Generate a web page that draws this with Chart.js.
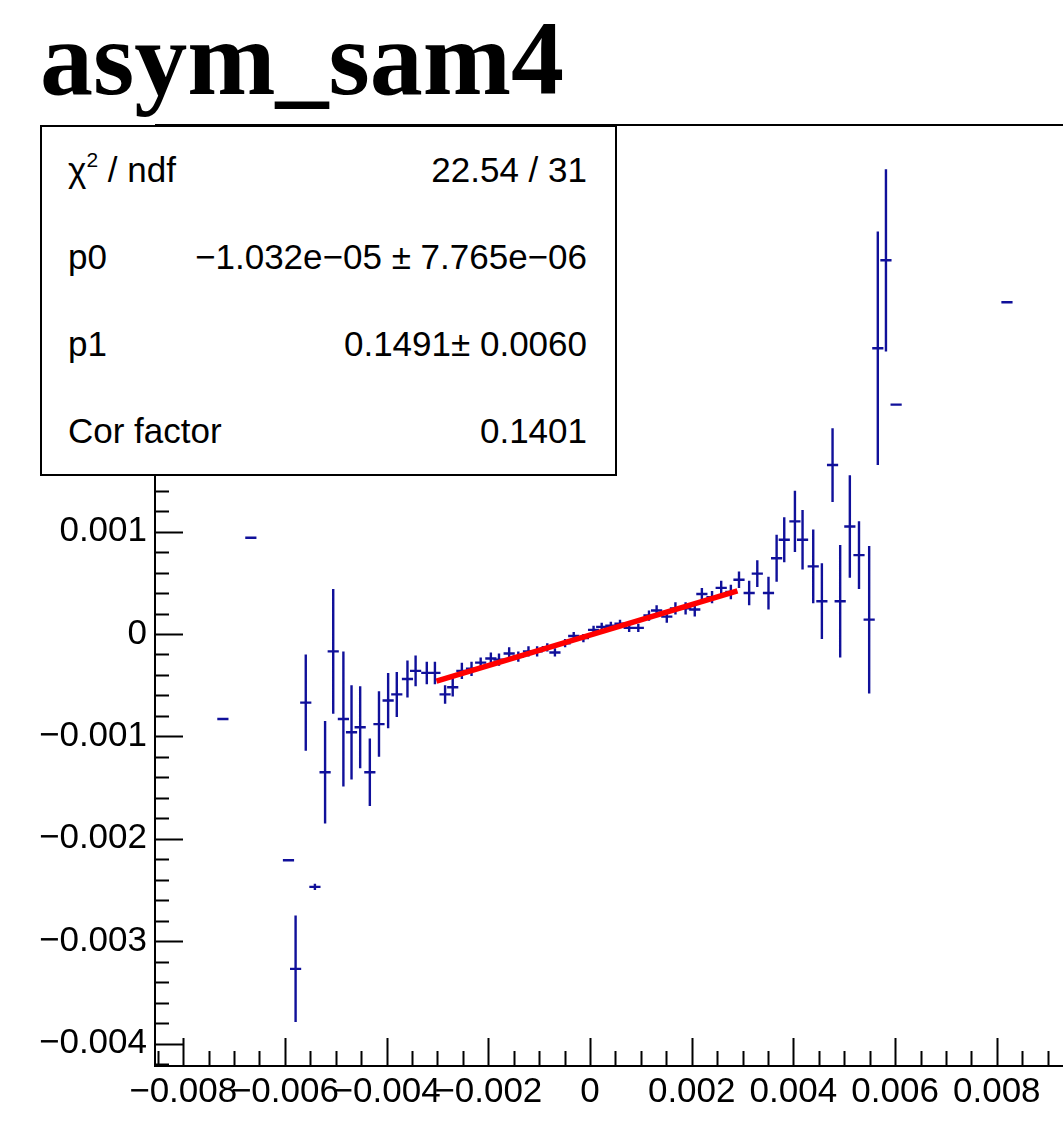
<!DOCTYPE html>
<html lang="en">
<head>
<meta charset="UTF-8">
<title>asym_sam4</title>
<script src="https://cdn.jsdelivr.net/npm/chart.js"></script>
<style>
  body { margin: 0; background: #fff; }
  #wrap { position: relative; width: 1063px; height: 1133px; overflow: hidden; }
  #title {
    position: absolute; left: 40px; top: 6px;
    font: bold 106px "Liberation Serif", "Times New Roman", serif;
    line-height: 1; color: #000; white-space: nowrap;
  }
  #stats {
    position: absolute; left: 40px; top: 125px; width: 577px; height: 351px;
    box-sizing: border-box; border: 2px solid #000; background: #fff;
    display: flex; flex-direction: column; padding: 0 28px 0 26px;
    font: 35px "Liberation Sans", Arial, sans-serif; color: #000;
  }
  #stats .row { flex: 1; display: flex; justify-content: space-between; align-items: center; white-space: nowrap; }
  #stats sup { font-size: 60%; vertical-align: 0.7em; line-height: 0; }
</style>
</head>
<body>
<div id="wrap">
  <canvas id="chart" width="1063" height="1133"></canvas>
  <div id="title">asym_sam4</div>
  <div id="stats"></div>
</div>

<script>
// binned asymmetry points: bin centre, mean value, error on the mean
const xVals = [
  -0.00722, -0.00667, -0.00593, -0.00579, -0.00559, -0.00541, -0.00521, -0.00505,
  -0.00485, -0.00469, -0.00452, -0.00433, -0.00415, -0.00397, -0.00380, -0.00359,
  -0.00343, -0.00321, -0.00305, -0.00285, -0.00270, -0.00252, -0.00233, -0.00215,
  -0.00195, -0.00179, -0.00159, -0.00141, -0.00121, -0.00104, -0.00084, -0.00069,
  -0.00049, -0.00032, -0.00013, 0.00007, 0.00023, 0.00041, 0.00059, 0.00077,
  0.00095, 0.00116, 0.00131, 0.00151, 0.00168, 0.00188, 0.00206, 0.00220,
  0.00240, 0.00258, 0.00277, 0.00293, 0.00313, 0.00329, 0.00351, 0.00367,
  0.00382, 0.00403, 0.00418, 0.00439, 0.00456, 0.00477, 0.00492, 0.00511,
  0.00529, 0.00549, 0.00566, 0.00582, 0.00602, 0.00820
];
const yVals = [
  -0.00083, 0.00094, -0.00221, -0.00327, -0.00067, -0.00247, -0.00135, -0.00017,
  -0.00083, -0.00096, -0.00091, -0.00135, -0.00088, -0.00065, -0.00059, -0.00044,
  -0.00036, -0.00038, -0.00038, -0.00059, -0.00052, -0.00036, -0.00034, -0.00028,
  -0.00024, -0.00025, -0.00019, -0.00022, -0.00017, -0.00017, -0.00013, -0.00018,
  -0.00009, -0.00002, -0.00004, 0.00004, 0.00007, 0.00008, 0.00010, 0.00006,
  0.00006, 0.00018, 0.00023, 0.00017, 0.00025, 0.00025, 0.00024, 0.00039,
  0.00036, 0.00045, 0.00041, 0.00053, 0.00040, 0.00059, 0.00040, 0.00074,
  0.00092, 0.00110, 0.00092, 0.00066, 0.00032, 0.00165, 0.00032, 0.00105,
  0.00077, 0.00014, 0.00279, 0.00365, 0.00224, 0.00324
];
const yErrs = [
  0, 0, 0, 0.00052, 0.00047, 0.00003, 0.00050, 0.00061,
  0.00066, 0.00046, 0.00040, 0.00033, 0.00032, 0.00027, 0.00022, 0.00018,
  0.00015, 0.00011, 0.00011, 0.00009, 0.00009, 0.00008, 0.00007, 0.00005,
  0.00006, 0.00006, 0.00006, 0.00005, 0.00005, 0.00005, 0.00004, 0.00004,
  0.00004, 0.00004, 0.00004, 0.00004, 0.00004, 0.00004, 0.00004, 0.00004,
  0.00004, 0.00005, 0.00005, 0.00006, 0.00006, 0.00006, 0.00007, 0.00006,
  0.00006, 0.00007, 0.00007, 0.00008, 0.00012, 0.00013, 0.00016, 0.00023,
  0.00022, 0.00030, 0.00029, 0.00036, 0.00037, 0.00036, 0.00055, 0.00050,
  0.00033, 0.00072, 0.00114, 0.00089, 0, 0
];
const xErr = 0.00011;

// axis labels
const xTicks = [-0.008, -0.006, -0.004, -0.002, 0, 0.002, 0.004, 0.006, 0.008];
const yTicks = [-0.004, -0.003, -0.002, -0.001, 0, 0.001, 0.002, 0.003, 0.004];
const xRange = [-0.008555, 0.009302];
const yRange = [-0.004219, 0.004971];

// pol1 fit results
const chi2 = 22.54, ndf = 31;
const p0 = -1.032e-05, p0Err = 7.765e-06;
const p1 = 0.1491, p1Err = 0.0060;
const corFactor = 0.1401;
const fitRange = [-0.00302, 0.0029];

const pointColor = '#10109a';
const MINUS = '\u2212';

function fmtTick(v) {
  if (Math.abs(v) < 1e-12) return '0';
  return (v < 0 ? MINUS : '') + Math.abs(v).toFixed(3);
}

// 1.032e-05 style, two digit exponent
function fmtExp(v) {
  const parts = Math.abs(v).toExponential(3).split('e');
  const n = parseInt(parts[1], 10);
  return (v < 0 ? MINUS : '') + parts[0] + 'e' + (n < 0 ? MINUS : '+') + String(Math.abs(n)).padStart(2, '0');
}

// stats box
const stats = [
  ['\u03c7<sup>2</sup> / ndf', chi2.toFixed(2) + ' / ' + ndf],
  ['p0', fmtExp(p0) + ' \u00b1 ' + fmtExp(p0Err)],
  ['p1', p1.toFixed(4) + '\u00b1 ' + p1Err.toFixed(4)],
  ['Cor factor', corFactor.toFixed(4)]
];
document.getElementById('stats').innerHTML = stats
  .map(r => '<div class="row"><span>' + r[0] + '</span><span>' + r[1] + '</span></div>')
  .join('');

// crosses: horizontal bin width + vertical error
const errorBars = {
  id: 'errorBars',
  beforeDatasetsDraw(chart) {
    const { ctx, scales: { x, y } } = chart;
    const pts = chart.data.datasets[0].data;
    ctx.save();
    ctx.strokeStyle = pointColor;
    ctx.lineWidth = 2.4;
    ctx.beginPath();
    pts.forEach(p => {
      const px = x.getPixelForValue(p.x);
      const py = y.getPixelForValue(p.y);
      ctx.moveTo(x.getPixelForValue(p.x - xErr), py);
      ctx.lineTo(x.getPixelForValue(p.x + xErr), py);
      if (p.e > 0) {
        ctx.moveTo(px, y.getPixelForValue(p.y + p.e));
        ctx.lineTo(px, y.getPixelForValue(p.y - p.e));
      }
    });
    ctx.stroke();
    ctx.restore();
  }
};

// ROOT style frame with inward major/minor ticks
const rootAxes = {
  id: 'rootAxes',
  afterDatasetsDraw(chart) {
    const { ctx, chartArea: a, scales: { x, y } } = chart;
    ctx.save();
    ctx.strokeStyle = '#000';
    ctx.lineWidth = 2;
    ctx.beginPath();
    ctx.moveTo(a.left, a.top); ctx.lineTo(a.right, a.top);
    ctx.moveTo(a.left, a.top); ctx.lineTo(a.left, a.bottom);
    ctx.lineTo(a.right, a.bottom);
    for (let i = -17; i <= 18; i++) {
      const v = i * 0.0005;
      if (v < xRange[0] || v > xRange[1]) continue;
      const px = Math.round(x.getPixelForValue(v)) + 0.5;
      const len = (i % 4 === 0) ? 28 : 15;
      ctx.moveTo(px, a.bottom); ctx.lineTo(px, a.bottom - len);
    }
    for (let i = -21; i <= 24; i++) {
      const v = i * 0.0002;
      if (v < yRange[0] || v > yRange[1]) continue;
      const py = Math.round(y.getPixelForValue(v)) + 0.5;
      const len = (i % 5 === 0) ? 28 : 14;
      ctx.moveTo(a.left, py); ctx.lineTo(a.left + len, py);
    }
    ctx.stroke();
    ctx.restore();
  }
};

const tickFont = { family: '"Liberation Sans", Arial, sans-serif', size: 35 };

new Chart(document.getElementById('chart'), {
  type: 'scatter',
  data: {
    datasets: [
      {
        label: 'asym_sam4',
        data: xVals.map((v, i) => ({ x: v, y: yVals[i], e: yErrs[i] })),
        pointRadius: 0,
        showLine: false
      },
      {
        label: 'pol1',
        data: fitRange.map(v => ({ x: v, y: p0 + p1 * v })),
        showLine: true,
        borderColor: '#ff0000',
        borderWidth: 5.5,
        pointRadius: 0
      }
    ]
  },
  options: {
    responsive: false,
    animation: false,
    devicePixelRatio: 1,
    layout: { padding: { top: 125, left: 0, right: 0, bottom: 0 } },
    plugins: { legend: { display: false }, tooltip: { enabled: false } },
    scales: {
      x: {
        type: 'linear',
        min: xRange[0],
        max: xRange[1],
        grid: { display: false, drawTicks: false },
        border: { display: false },
        afterBuildTicks: s => { s.ticks = xTicks.map(v => ({ value: v })); },
        afterFit: s => { s.height = 67; },
        ticks: {
          autoSkip: false, maxRotation: 0, minRotation: 0, padding: 5,
          color: '#000', font: tickFont, callback: v => fmtTick(v)
        }
      },
      y: {
        type: 'linear',
        min: yRange[0],
        max: yRange[1],
        grid: { display: false, drawTicks: false },
        border: { display: false },
        afterBuildTicks: s => { s.ticks = yTicks.map(v => ({ value: v })); },
        afterFit: s => { s.width = 155; },
        ticks: {
          autoSkip: false, padding: 8,
          color: '#000', font: tickFont, callback: v => fmtTick(v)
        }
      }
    }
  },
  plugins: [errorBars, rootAxes]
});
</script>
</body>
</html>
